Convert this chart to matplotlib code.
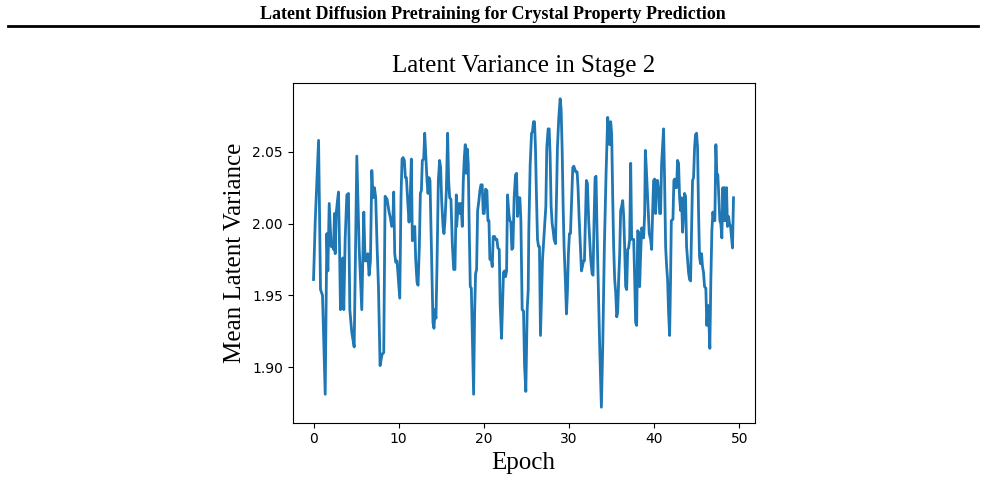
import numpy as np
import matplotlib
matplotlib.use("Agg")
import matplotlib.pyplot as plt

## Data (epoch, mean latent variance)
epochs = [
    0.00, 0.20, 0.59, 0.82, 1.05, 1.37, 1.56, 1.68, 1.84, 2.07, 2.23, 2.34, 2.46, 2.54, 2.66,
    2.81, 2.93, 3.05, 3.16, 3.32, 3.44, 3.55, 3.71, 3.91, 4.10, 4.26, 4.49, 4.77, 5.08, 5.35,
    5.66, 5.90, 6.05, 6.25, 6.37, 6.52, 6.68, 6.84, 6.99, 7.15, 7.30, 7.46, 7.62, 7.81, 8.05,
    8.24, 8.40, 8.63, 8.87, 9.02, 9.18, 9.30, 9.41, 9.53, 9.65, 9.80, 9.96, 10.12, 10.27, 10.39,
    10.51, 10.66, 10.78, 10.90, 11.05, 11.21, 11.37, 11.48, 11.60, 11.76, 11.88, 11.99, 12.15, 12.27, 12.42,
    12.54, 12.66, 12.77, 12.93, 13.05, 13.20, 13.32, 13.44, 13.55, 13.67, 13.79, 13.91, 14.02, 14.14, 14.26,
    14.37, 14.49, 14.65, 14.80, 14.92, 15.04, 15.20, 15.31, 15.43, 15.59, 15.74, 15.86, 15.98, 16.13, 16.29,
    16.45, 16.60, 16.76, 16.80, 16.91, 17.07, 17.19, 17.30, 17.46, 17.58, 17.70, 17.81, 17.93, 18.05, 18.16,
    18.28, 18.40, 18.52, 18.63, 18.79, 18.91, 19.02, 19.14, 19.26, 19.41, 19.53, 19.65, 19.80, 19.92, 20.04,
    20.20, 20.35, 20.47, 20.59, 20.70, 20.86, 20.98, 21.09, 21.25, 21.37, 21.52, 21.64, 21.80, 21.91, 22.07,
    22.19, 22.30, 22.42, 22.54, 22.66, 22.77, 22.93, 23.05, 23.16, 23.28, 23.40, 23.55, 23.71, 23.83, 23.95,
    24.10, 24.22, 24.34, 24.49, 24.65, 24.77, 24.92, 25.08, 25.20, 25.27, 25.43, 25.59, 25.70, 25.82, 25.94,
    26.05, 26.17, 26.29, 26.41, 26.52, 26.64, 26.76, 26.88, 27.03, 27.15, 27.27, 27.38, 27.54, 27.66, 27.77,
    27.89, 28.01, 28.13, 28.24, 28.40, 28.52, 28.63, 28.79, 28.95, 29.06, 29.18, 29.30, 29.41, 29.57, 29.69,
    29.80, 29.92, 30.04, 30.16, 30.27, 30.43, 30.55, 30.66, 30.78, 30.94, 31.05, 31.17, 31.33, 31.45, 31.56,
    31.68, 31.80, 31.91, 32.03, 32.15, 32.30, 32.42, 32.54, 32.70, 32.81, 32.93, 33.05, 33.16, 33.28, 33.40,
    33.60, 33.79, 33.95, 34.14, 34.34, 34.53, 34.65, 34.77, 34.88, 35.00, 35.12, 35.23, 35.35, 35.47, 35.59,
    35.70, 35.82, 35.94, 36.05, 36.17, 36.29, 36.41, 36.52, 36.64, 36.76, 36.88, 36.99, 37.11, 37.23, 37.34,
    37.46, 37.58, 37.70, 37.81, 37.93, 38.05, 38.16, 38.28, 38.40, 38.52, 38.63, 38.75, 38.87, 38.95, 39.06,
    39.18, 39.30, 39.41, 39.57, 39.69, 39.80, 39.92, 40.04, 40.16, 40.27, 40.39, 40.51, 40.63, 40.74, 40.86,
    40.98, 41.09, 41.21, 41.33, 41.45, 41.56, 41.68, 41.80, 41.91, 42.00, 42.19, 42.30, 42.38, 42.50, 42.62,
    42.73, 42.85, 42.97, 43.09, 43.20, 43.32, 43.44, 43.55, 43.67, 43.79, 43.91, 44.02, 44.14, 44.26, 44.38,
    44.49, 44.61, 44.73, 44.84, 44.96, 45.08, 45.20, 45.31, 45.43, 45.55, 45.66, 45.78, 45.90, 46.05, 46.17,
    46.29, 46.41, 46.52, 46.64, 46.76, 46.88, 46.99, 47.11, 47.23, 47.34, 47.46, 47.58, 47.70, 47.81, 47.93,
    48.05, 48.16, 48.24, 48.36, 48.48, 48.59, 48.71, 48.83, 48.95, 49.06, 49.18, 49.30,
]
variance = [
    1.961, 2.002, 2.058, 1.954, 1.950, 1.881, 1.993, 1.967, 2.014, 1.984, 1.985, 1.982, 2.007, 1.979, 2.007,
    2.016, 2.022, 1.984, 1.940, 1.975, 1.976, 1.940, 1.989, 2.020, 2.021, 1.940, 1.924, 1.914, 2.047, 1.984,
    1.940, 2.008, 1.974, 1.974, 1.979, 1.964, 1.974, 2.037, 2.018, 2.025, 2.018, 1.984, 1.956, 1.901, 1.909,
    1.910, 2.019, 2.017, 2.008, 2.004, 1.998, 1.999, 2.022, 1.979, 1.973, 1.974, 1.961, 1.948, 2.019, 2.045,
    2.046, 2.044, 2.032, 2.032, 2.016, 2.001, 2.022, 2.045, 1.988, 1.991, 1.998, 1.975, 1.959, 1.957, 1.984,
    2.021, 2.023, 2.044, 2.045, 2.063, 2.044, 2.030, 2.021, 2.032, 2.030, 1.995, 1.961, 1.931, 1.927, 1.940,
    1.934, 1.970, 2.030, 2.044, 2.039, 2.016, 1.998, 1.993, 2.002, 2.023, 2.063, 2.030, 2.018, 2.017, 1.986,
    1.968, 1.968, 2.020, 1.998, 2.007, 2.014, 2.007, 2.014, 1.998, 2.030, 2.046, 2.055, 2.035, 2.052, 2.042,
    1.995, 1.956, 1.955, 1.924, 1.881, 1.938, 1.965, 1.968, 2.009, 2.016, 2.023, 2.027, 2.027, 2.007, 2.007,
    2.024, 2.023, 2.002, 2.002, 1.975, 1.975, 1.970, 1.991, 1.991, 1.989, 1.989, 1.983, 1.982, 1.943, 1.920,
    1.943, 1.966, 1.967, 1.963, 1.967, 2.020, 2.007, 2.002, 2.001, 1.982, 1.983, 2.018, 2.034, 2.035, 2.005,
    2.018, 2.018, 2.002, 1.940, 1.939, 1.901, 1.883, 1.940, 1.954, 1.995, 2.041, 2.063, 2.064, 2.071, 2.071,
    2.053, 2.019, 1.989, 1.984, 1.984, 1.922, 1.949, 1.975, 1.989, 2.000, 2.012, 2.053, 2.066, 2.066, 2.048,
    2.012, 2.000, 1.995, 1.989, 1.986, 2.018, 2.053, 2.074, 2.087, 2.080, 2.053, 2.012, 1.984, 1.959, 1.937,
    1.952, 1.979, 1.993, 1.993, 2.012, 2.039, 2.040, 2.038, 2.036, 2.036, 2.025, 2.005, 1.984, 1.967, 1.970,
    1.974, 1.974, 2.002, 2.030, 2.028, 2.002, 1.989, 1.975, 1.965, 1.964, 2.002, 2.032, 2.033, 1.995, 1.965,
    1.912, 1.872, 1.915, 1.984, 2.035, 2.074, 2.067, 2.055, 2.071, 2.062, 2.018, 1.984, 1.961, 1.952, 1.935,
    1.938, 1.961, 1.979, 2.009, 2.012, 2.016, 2.005, 1.984, 1.956, 1.954, 1.982, 1.983, 1.989, 2.042, 1.989,
    1.989, 1.989, 1.961, 1.931, 1.929, 1.995, 1.994, 1.956, 1.979, 1.997, 1.995, 1.990, 2.007, 2.051, 2.039,
    2.023, 2.007, 1.993, 1.989, 1.982, 2.007, 2.030, 2.031, 2.007, 2.030, 2.030, 2.023, 2.007, 2.007, 2.042,
    2.055, 2.066, 2.030, 1.984, 1.970, 1.961, 1.938, 1.922, 1.961, 2.002, 2.003, 2.030, 2.031, 2.025, 2.025,
    2.044, 2.042, 2.018, 2.009, 2.018, 1.994, 2.007, 2.021, 2.019, 1.984, 1.975, 1.966, 1.961, 1.960, 1.995,
    2.030, 2.032, 2.053, 2.062, 2.063, 2.053, 2.007, 1.977, 1.972, 1.979, 1.970, 1.966, 1.956, 1.955, 1.929,
    1.943, 1.932, 1.913, 1.961, 1.995, 2.008, 2.002, 2.002, 2.055, 2.035, 2.034, 2.018, 2.002, 2.000, 1.990,
    2.025, 2.002, 2.025, 2.002, 2.025, 1.998, 2.005, 2.000, 1.998, 1.991, 1.983, 2.018,
]

serif = ['Liberation Serif', 'DejaVu Serif']

fig = plt.figure(figsize=(9.85, 4.83), dpi=100)

# page header with a rule under it
fig.text(0.5, 0.970, "Latent Diffusion Pretraining for Crystal Property Prediction",
         ha='center', va='center', fontsize=13, fontweight='bold', family=serif)
fig.add_artist(plt.Line2D([0.008, 0.993], [0.946, 0.946], color='black', linewidth=2))

ax = fig.add_axes([0.297, 0.125, 0.469, 0.7025])
ax.plot(epochs, variance, color='#1f77b4', linewidth=2)

ax.set_title("Latent Variance in Stage 2", fontsize=18, family=serif, pad=8)
ax.set_xlabel("Epoch", fontsize=18, family=serif)
ax.set_ylabel("Mean Latent Variance", fontsize=18, family=serif)
ax.set_xticks([0, 10, 20, 30, 40, 50])
ax.set_yticks([1.90, 1.95, 2.00, 2.05])

fig.savefig("out.png", dpi=100)
